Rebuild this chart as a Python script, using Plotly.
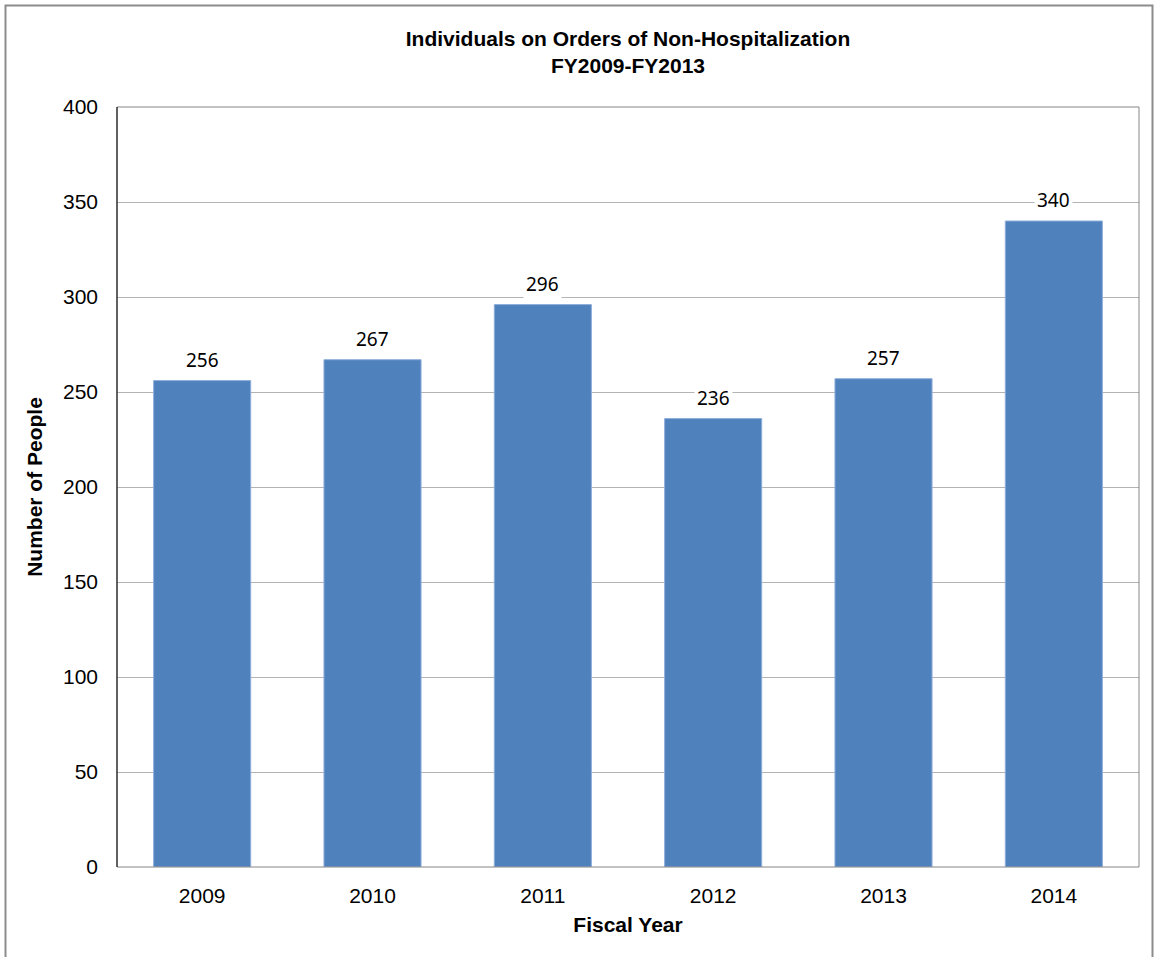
import plotly.graph_objects as go

years = ["2009", "2010", "2011", "2012", "2013", "2014"]
people = [256, 267, 296, 236, 257, 340]
y_ticks = [0, 50, 100, 150, 200, 250, 300, 350, 400]

L, R, T, B = 117, 15, 107, 90
W, H = 1154, 957
pw, ph = W - L - R, H - T - B

def px(x):
    return (x - L) / pw

def py(y):
    return (H - B - y) / ph

FONT = "Liberation Sans, Arial, sans-serif"

fig = go.Figure()
fig.add_trace(go.Bar(
    x=years, y=people, width=0.57,
    marker=dict(color="#4F81BD", line=dict(color="#8FAEDB", width=1)),
    hoverinfo="x+y",
))

for i, v in enumerate(people):
    fig.add_annotation(
        x=i, y=v, xref="x", yref="y", text=str(v), showarrow=False,
        yanchor="middle", yshift=21, bgcolor="white", borderpad=2,
        font=dict(family="Noto Sans, Open Sans, sans-serif", size=19, color="#000000"),
    )

# outer chart border
fig.add_shape(type="rect", xref="paper", yref="paper",
              x0=px(5.5), x1=px(1152.5), y0=py(990), y1=py(5.5),
              line=dict(color="#8c8c8c", width=2), fillcolor="rgba(0,0,0,0)", layer="below")
# plot-area border (top/right/bottom gray)
fig.add_shape(type="rect", xref="paper", yref="paper", x0=0, x1=1, y0=0, y1=1,
              line=dict(color="#868686", width=1), layer="above")
# left axis line black
fig.add_shape(type="line", xref="paper", yref="paper", x0=0, x1=0, y0=0, y1=1,
              line=dict(color="#000000", width=1), layer="above")

fig.update_layout(
    width=W, height=H,
    margin=dict(l=L, r=R, t=T, b=B, autoexpand=False),
    paper_bgcolor="white", plot_bgcolor="white",
    showlegend=False,
    title=dict(
        text="<b>Individuals on Orders of Non-Hospitalization<br>FY2009-FY2013</b>",
        x=0.5, xref="paper", xanchor="center", y=1 - 46 / H, yanchor="top",
        font=dict(family=FONT, size=21, color="#000000"),
    ),
    xaxis=dict(
        type="category", range=[-0.5, 5.5], autorange=False,
        showgrid=False, showline=False, ticks="", automargin=False,
        tickfont=dict(family=FONT, size=21, color="#000000"),
        ticklabelstandoff=14,
        title=dict(text="<b>Fiscal Year</b>", standoff=11,
                   font=dict(family=FONT, size=21, color="#000000")),
    ),
    yaxis=dict(
        range=[0, 400], autorange=False, tickvals=y_ticks, showgrid=True, gridcolor="#b3b3b3", gridwidth=1,
        showline=False, zeroline=False, ticks="", automargin=False,
        tickfont=dict(family=FONT, size=21, color="#000000"),
        ticklabelstandoff=18,
        title=dict(text="<b>Number of People</b>", standoff=14,
                   font=dict(family=FONT, size=21, color="#000000")),
    ),
)

fig.write_html("out.html", config={"displayModeBar": False},
               post_script="document.body.style.margin='0';document.body.style.overflow='hidden';")
